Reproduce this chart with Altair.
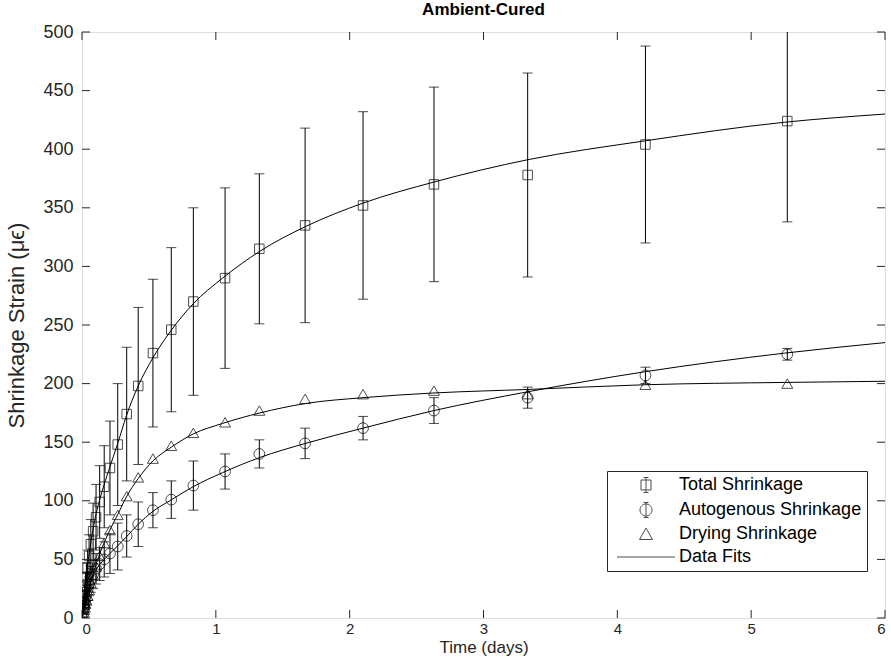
import altair as alt
import pandas as pd

t_meas = [0, 0.0132, 0.0166, 0.021, 0.026, 0.033, 0.042, 0.053, 0.066, 0.083, 0.105,
          0.132, 0.166, 0.209, 0.267, 0.334, 0.420, 0.530, 0.667, 0.832, 1.069,
          1.325, 1.667, 2.100, 2.630, 3.330, 4.210, 5.270]
total = [0, 13, 17, 22, 28, 35, 43, 53, 63, 74, 86,
         99, 112, 128, 148, 174, 198, 226, 246, 270, 290,
         315, 335, 352, 370, 378, 404, 424]
total_err = [0, 5, 6, 8, 10, 12, 15, 18, 21, 24, 28,
             31, 35, 40, 52, 57, 67, 63, 70, 80, 77,
             64, 83, 80, 83, 87, 84, 86]
auto = [0, 8, 10, 13, 16, 20, 24, 29, 33, 37, 42,
        46, 50, 55, 61, 70, 80, 92, 101, 113, 125,
        140, 149, 162, 177, 188, 207, 225]
auto_err = [0, 4, 5, 6, 7, 8, 9, 10, 11, 12, 13,
            14, 15, 17, 20, 18, 19, 15, 16, 21, 15,
            12, 13, 10, 11, 9, 7, 5]
dry = [0, 5, 7, 9, 12, 15, 19, 24, 30, 37, 44,
       53, 64, 75, 88, 104, 120, 136, 147, 158, 167,
       177, 187, 191, 194, 191, 199, 200]

# ---- fitted curves ----
fit_t = [0, 0.02, 0.05, 0.1, 0.15, 0.2, 0.27, 0.33, 0.42, 0.53, 0.67, 0.83,
         1.05, 1.33, 1.67, 2.1, 2.63, 3.33, 4.2, 5.25, 6.0]
total_fit = [0, 24, 52, 86, 108, 126, 150, 172, 198, 222, 246, 268,
             290, 313, 334, 354, 372, 391, 407, 423, 430]
auto_fit = [0, 12, 25, 40, 48, 54, 62, 69, 80, 91, 101, 112,
            124, 137, 149, 162, 177, 193, 210, 226, 235]
dry_fit = [0, 10, 24, 44, 60, 73, 89, 103, 119, 134, 146, 157,
           166, 175, 183, 188, 192, 195, 199, 201, 202]

x_ticks = [0, 1, 2, 3, 4, 5, 6]
y_ticks = [0, 50, 100, 150, 200, 250, 300, 350, 400, 450, 500]

legend_names = ["Total Shrinkage", "Autogenous Shrinkage", "Drying Shrinkage", "Data Fits"]
legend_paths = [
    "M-1,-1H1V1H-1Z M0,-1.5V1.5 M-0.5,-1.5H0.5 M-0.5,1.5H0.5",
    "M1.2,0A1.2,1.2,0,1,1,-1.2,0A1.2,1.2,0,1,1,1.2,0Z M0,-1.5V1.5 M-0.5,-1.5H0.5 M-0.5,1.5H0.5",
    "M0,-1.2L1.3,1.1H-1.3Z",
    "M-5.8,0H5.8",
]

# ---- tables ----
meas = pd.DataFrame({"t": t_meas, "total": total, "total_err": total_err,
                     "auto": auto, "auto_err": auto_err, "dry": dry})
meas["total_lo"] = meas["total"] - meas["total_err"]
meas["total_hi"] = meas["total"] + meas["total_err"]
meas["auto_lo"] = meas["auto"] - meas["auto_err"]
meas["auto_hi"] = meas["auto"] + meas["auto_err"]

fits = pd.concat([
    pd.DataFrame({"t": fit_t, "v": total_fit, "series": "total"}),
    pd.DataFrame({"t": fit_t, "v": auto_fit, "series": "auto"}),
    pd.DataFrame({"t": fit_t, "v": dry_fit, "series": "dry"}),
])

W, H = 803, 586
FONT = "Liberation Sans"
AX = "#262626"

xs = alt.Scale(domain=[0, 6], nice=False, zero=False)
ys = alt.Scale(domain=[0, 500], nice=False)
xaxis = alt.Axis(title="Time (days)", values=x_ticks, domain=False, ticks=False, grid=False,
                 labelFont=FONT, labelFontSize=15, labelColor=AX, labelPadding=3,
                 titleFont=FONT, titleFontSize=17, titleColor=AX, titleFontWeight="normal",
                 titleBaseline="alphabetic", titleY=34, format="d")
yaxis = alt.Axis(title="Shrinkage Strain (μϵ)", values=y_ticks, domain=False, ticks=False, grid=False,
                 labelFont=FONT, labelFontSize=18, labelColor=AX, labelPadding=9,
                 titleFont=FONT, titleFontSize=22, titleColor=AX, titleFontWeight="normal",
                 titlePadding=14, format="d")


def X(f):
    return alt.X(f, scale=xs, axis=xaxis)


def Y(f):
    return alt.Y(f, scale=ys, axis=yaxis)


base = alt.Chart(meas)

fit_layer = alt.Chart(fits).mark_line(color="black", strokeWidth=1, interpolate="monotone", clip=True).encode(
    x=X("t:Q"), y=Y("v:Q"), detail="series:N")


def errbars(lo, hi):
    rule = base.mark_rule(color="black", strokeWidth=1, clip=True).encode(
        x=X("t:Q"), y=Y(f"{lo}:Q"), y2=f"{hi}:Q")
    cap_lo = base.mark_tick(orient="horizontal", size=10, thickness=1, color="black", clip=True).encode(
        x=X("t:Q"), y=Y(f"{lo}:Q"))
    cap_hi = base.mark_tick(orient="horizontal", size=10, thickness=1, color="black", clip=True).encode(
        x=X("t:Q"), y=Y(f"{hi}:Q"))
    return [rule, cap_lo, cap_hi]


sq = base.mark_point(shape="square", size=90, filled=False, color="black", strokeWidth=1, clip=True).encode(
    x=X("t:Q"), y=Y("total:Q"))
ci = base.mark_point(shape="circle", size=115, filled=False, color="black", strokeWidth=1, clip=True).encode(
    x=X("t:Q"), y=Y("auto:Q"))
tr = base.mark_point(shape="triangle-up", size=120, filled=False, color="black", strokeWidth=1, clip=True).encode(
    x=X("t:Q"), y=Y("dry:Q"))

leg_df = pd.DataFrame({"name": legend_names})
legend_layer = alt.Chart(leg_df).mark_point(filled=False, color="black", strokeWidth=1, size=100, clip=True).encode(
    x=alt.value(-200), y=alt.value(-200),
    shape=alt.Shape("name:N", scale=alt.Scale(domain=legend_names, range=legend_paths),
                    legend=alt.Legend(title=None, orient="none", legendX=525, legendY=439,
                                      strokeColor=AX, fillColor="white", padding=5, cornerRadius=0,
                                      labelFont=FONT, labelFontSize=18, labelColor="black",
                                      symbolSize=100, symbolStrokeWidth=1, symbolStrokeColor="black",
                                      symbolOffset=25, labelOffset=24, rowPadding=5,
                                      labelLimit=400)))

xt = alt.Chart(pd.DataFrame({"tx": x_ticks}))
yt = alt.Chart(pd.DataFrame({"ty": y_ticks}))
tick_bottom = xt.mark_rule(color=AX, strokeWidth=1).encode(x=X("tx:Q"), y=alt.value(H), y2=alt.value(H - 8))
tick_top = xt.mark_rule(color=AX, strokeWidth=1).encode(x=X("tx:Q"), y=alt.value(0), y2=alt.value(8))
tick_left = yt.mark_rule(color=AX, strokeWidth=1).encode(y=Y("ty:Q"), x=alt.value(0), x2=alt.value(8))
tick_right = yt.mark_rule(color=AX, strokeWidth=1).encode(y=Y("ty:Q"), x=alt.value(W), x2=alt.value(W - 8))

layers = [fit_layer] + errbars("total_lo", "total_hi") + errbars("auto_lo", "auto_hi") + [
    sq, ci, tr, tick_bottom, tick_top, tick_left, tick_right, legend_layer]

chart = alt.layer(*layers).properties(
    width=W, height=H,
    title=alt.Title("Ambient-Cured", font=FONT, fontSize=17, fontWeight="bold", color="black",
                    anchor="middle", offset=4),
    autosize=alt.AutoSizeParams(type="none"),
    padding={"left": 82, "top": 32, "right": 6, "bottom": 39},
).configure_view(stroke=AX, strokeWidth=1).configure(background="white")

chart.save("out.html", embed_options={"renderer": "svg", "actions": False})
